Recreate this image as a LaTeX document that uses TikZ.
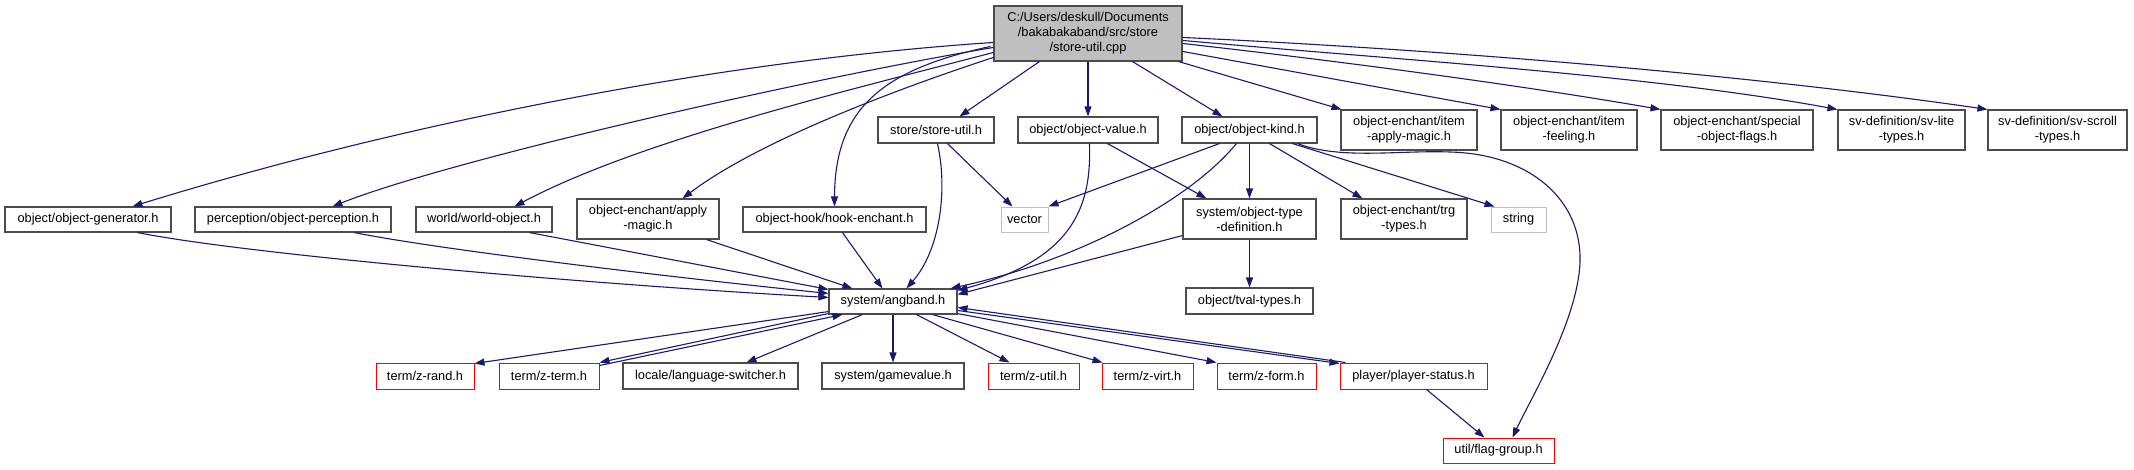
\documentclass[tikz,border=0pt]{standalone}
\usepackage{fontspec}
\setmainfont{Liberation Sans}
\usetikzlibrary{arrows.meta,calc}
\definecolor{edgeblue}{HTML}{191970}
\definecolor{rootgray}{HTML}{BFBFBF}
\begin{document}
\begin{tikzpicture}[x=1pt,y=-1pt,
  box/.style={draw=black!70, line width=1.1pt, fill=white, inner sep=0pt, align=center,
    minimum height=25pt, font=\fontsize{12.8pt}{15pt}\selectfont},
  tallbox/.style={box, minimum height=40pt},
  redbox/.style={box, draw=red, line width=1pt},
  graybox/.style={box, draw=black!25, line width=1pt},
  edge/.style={draw=edgeblue, line width=1.1pt, -{Triangle[length=10pt,width=7pt]}}
]
\useasboundingbox (0,0) rectangle (2134,469);
% nodes
\node[box, fill=rootgray, minimum width=188pt, minimum height=55pt] (root) at (1088,33.5) {C:/Users/deskull/Documents\\/bakabakaband/src/store\\/store-util.cpp};
\node[box, minimum width=116pt, minimum height=26pt] (storeu) at (936,130) {store/store-util.h};
\node[box, minimum width=140pt, minimum height=26pt] (objval) at (1088,130) {object/object-value.h};
\node[box, minimum width=135pt, minimum height=26pt] (objkind) at (1249.5,130) {object/object-kind.h};
\node[tallbox, minimum width=136pt] (itemapply) at (1409,130) {object-enchant/item\\-apply-magic.h};
\node[tallbox, minimum width=136pt] (itemfeel) at (1569,130) {object-enchant/item\\-feeling.h};
\node[tallbox, minimum width=152pt] (special) at (1737,130) {object-enchant/special\\-object-flags.h};
\node[tallbox, minimum width=127pt] (svlite) at (1901.5,130) {sv-definition/sv-lite\\-types.h};
\node[tallbox, minimum width=139pt] (svscroll) at (2057.5,130) {sv-definition/sv-scroll\\-types.h};

\node[box, minimum width=166pt] (gen) at (88,219.5) {object/object-generator.h};
\node[box, minimum width=196pt] (perc) at (293,219.5) {perception/object-perception.h};
\node[box, minimum width=136pt] (world) at (484,219.5) {world/world-object.h};
\node[tallbox, minimum width=142pt] (applym) at (648,219) {object-enchant/apply\\-magic.h};
\node[box, minimum width=183pt] (hook) at (834.5,219.5) {object-hook/hook-enchant.h};
\node[graybox, minimum width=47pt] (vector) at (1024.5,219.5) {vector};
\node[tallbox, minimum width=133pt] (otdef) at (1249.5,219) {system/object-type\\-definition.h};
\node[tallbox, minimum width=126pt] (trg) at (1404,219) {object-enchant/trg\\-types.h};
\node[graybox, minimum width=55pt] (string) at (1518.5,219.5) {string};

\node[box, minimum width=128pt] (angband) at (893,301.5) {system/angband.h};
\node[box, minimum width=127pt, minimum height=26pt] (tval) at (1249.5,301) {object/tval-types.h};

\node[redbox, minimum width=98pt, minimum height=26pt] (zrand) at (425,376) {term/z-rand.h};
\node[redbox, minimum width=100pt, minimum height=26pt] (zterm) at (549,376) {term/z-term.h};
\node[box, minimum width=175pt, minimum height=26pt] (lang) at (710.5,376) {locale/language-switcher.h};
\node[box, minimum width=142pt, minimum height=26pt] (gamev) at (893,376) {system/gamevalue.h};
\node[redbox, minimum width=91pt, minimum height=26pt] (zutil) at (1033.5,376) {term/z-util.h};
\node[redbox, minimum width=91pt, minimum height=26pt] (zvirt) at (1147.5,376) {term/z-virt.h};
\node[redbox, minimum width=99pt, minimum height=26pt] (zform) at (1266.5,376) {term/z-form.h};
\node[redbox, minimum width=147pt, minimum height=26pt] (pstat) at (1413.5,376) {player/player-status.h};
\node[redbox, minimum width=111pt] (flag) at (1498.5,450.5) {util/flag-group.h};

% edges from root
\draw[edge] ($(root.north west)+(0,37)$) .. controls (700,62) and (380,130) .. ($(gen.north west)+(128,0)$);
\draw[edge] ($(root.north west)+(0,42)$) .. controls (800,80) and (450,160) .. ($(perc.north west)+(138,0)$);
\draw[edge] ($(root.north west)+(0,47)$) .. controls (850,90) and (640,140) .. ($(world.north west)+(99,0)$);
\draw[edge] ($(root.north west)+(0,52)$) .. controls (900,88) and (760,140) .. ($(applym.north west)+(106,0)$);
\draw[edge] ($(root.north west)+(-3,41)$) .. controls (880,70) and (835,110) .. ($(hook.north west)+(92,0)$);
\draw[edge] ($(root.south west)+(46,0)$) -- ($(storeu.north west)+(82,0)$);
\draw[edge] (root.south) -- (objval.north);
\draw[edge] ($(root.south west)+(139,0)$) -- ($(objkind.north west)+(41,0)$);
\draw[edge] ($(root.south east)+(-4,0)$) -- ($(itemapply.north west)+(1,0)$);
\draw[edge] ($(root.north east)+(0,46)$) -- (itemfeel.north west);
\draw[edge] ($(root.north east)+(0,38)$) .. controls (1400,68) and (1560,92) .. (special.north west);
\draw[edge] ($(root.north east)+(0,35)$) .. controls (1400,60) and (1650,75) .. (svlite.north west);
\draw[edge] ($(root.north east)+(0,32)$) .. controls (1450,50) and (1750,75) .. (svscroll.north west);

% second row edges
\draw[edge] ($(storeu.south west)+(70,0)$) -- ($(vector.north west)+(12,0)$);
\draw[edge] ($(storeu.south west)+(60,0)$) .. controls (948,190) and (940,250) .. ($(angband.north west)+(78,0)$);
\draw[edge] ($(objval.south west)+(72,0)$) .. controls (1092,210) and (1070,260) .. ($(angband.north east)+(0,2)$);
\draw[edge] ($(objval.south west)+(90,0)$) -- ($(otdef.north west)+(24,0)$);
\draw[edge] ($(objkind.south west)+(38,0)$) -- (vector.north east);
\draw[edge] ($(objkind.south west)+(55,0)$) .. controls (1190,200) and (1080,260) .. ($(angband.north east)+(-7,0)$);
\draw[edge] (objkind.south) -- (otdef.north);
\draw[edge] ($(objkind.south west)+(88,0)$) -- ($(trg.north west)+(22,0)$);
\draw[edge] ($(objkind.south west)+(111,0)$) -- ($(string.north west)+(4,0)$);
\draw[edge] ($(objkind.south east)+(-20,0)$) .. controls (1340,160) and (1400,150) .. (1450,152)
  .. controls (1530,154) and (1582,200) .. (1580,262)
  .. controls (1578,320) and (1530,400) .. ($(flag.north west)+(70,0)$);
\draw[edge] ($(otdef.south west)+(0,-4)$) -- ($(angband.north east)+(0,6)$);
\draw[edge] (otdef.south) -- (tval.north);

% third row into angband
\draw[edge] ($(gen.south west)+(133,0)$) .. controls (250,255) and (600,285) .. ($(angband.north west)+(0,9)$);
\draw[edge] ($(perc.south west)+(160,0)$) .. controls (430,248) and (650,275) .. ($(angband.north west)+(0,5)$);
\draw[edge] ($(world.south west)+(114,0)$) -- ($(angband.north west)+(0,1)$);
\draw[edge] ($(applym.south west)+(130,0)$) -- ($(angband.north west)+(24,0)$);
\draw[edge] ($(hook.south west)+(100,0)$) -- ($(angband.north west)+(54,0)$);

% from angband
\draw[edge] ($(angband.south west)+(0,-3)$) -- ($(zrand.north east)+(0,1)$);
\draw[edge] ($(angband.south west)+(0,-1)$) -- (zterm.north east);
\draw[edge] ($(zterm.north east)+(0,3)$) -- ($(angband.south west)+(14,0)$);
\draw[edge] ($(angband.south west)+(34,0)$) -- ($(lang.north west)+(124,0)$);
\draw[edge] (angband.south) -- (gamev.north);
\draw[edge] ($(angband.south west)+(88,0)$) -- ($(zutil.north west)+(22,0)$);
\draw[edge] ($(angband.south west)+(104,0)$) -- ($(zvirt.north west)+(1,0)$);
\draw[edge] ($(angband.south east)+(0,-1)$) -- (zform.north west);
\draw[edge] ($(angband.north east)+(0,22)$) -- ($(pstat.north west)+(0,1)$);
\draw[edge] ($(pstat.north west)+(6,0)$) -- ($(angband.north east)+(0,19)$);
\draw[edge] ($(pstat.south west)+(87,0)$) -- ($(flag.north west)+(42,0)$);
\end{tikzpicture}
\end{document}
